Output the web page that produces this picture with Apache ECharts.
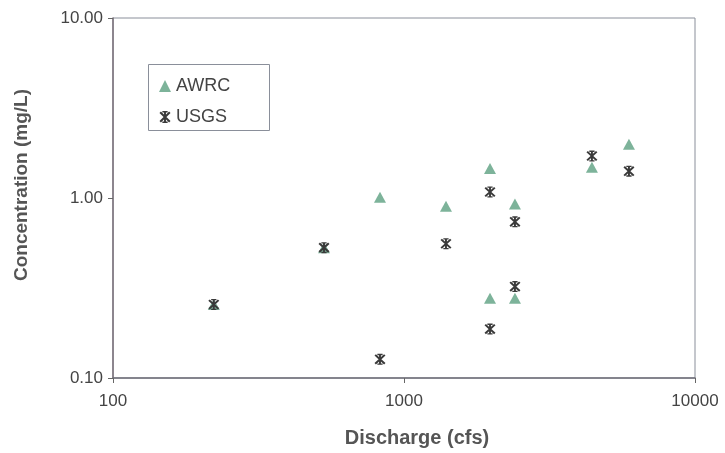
<!DOCTYPE html>
<html>
<head>
<meta charset="utf-8">
<script src="https://cdn.jsdelivr.net/npm/echarts@6/dist/echarts.min.js"></script>
<style>html,body{margin:0;padding:0;background:#fff;}#c{width:725px;height:453px;}</style>
</head>
<body>
<div id="c"></div>
<script>
// Data (discharge in cfs, concentration in mg/L)
var awrcDischarge = [222, 531, 827, 1394, 1975, 2406, 1975, 2406, 4424, 5930];
var awrcConc      = [0.256, 0.53, 1.01, 0.90, 1.46, 0.927, 0.277, 0.277, 1.48, 1.99];
var usgsDischarge = [222, 531, 827, 1394, 1975, 2406, 2406, 1975, 4424, 5930];
var usgsConc      = [0.256, 0.53, 0.127, 0.557, 1.08, 0.737, 0.322, 0.187, 1.71, 1.41];
var xTicks = [100, 1000, 10000];
var yTicks = [0.1, 1, 10];

function pairs(xs, ys) { return xs.map(function (x, i) { return [x, ys[i]]; }); }

var starPath = 'path://M4.2,0L5.8,0L5.8,10L4.2,10Z M0.4,1.6L1.6,0.4L9.6,8.4L8.4,9.6Z M8.4,0.4L9.6,1.6L1.6,9.6L0.4,8.4Z M2.8,0L7.2,0L7.2,1.2L2.8,1.2Z M2.8,8.8L7.2,8.8L7.2,10L2.8,10Z';
var font = 'Liberation Sans, Arial, sans-serif';

var chart = echarts.init(document.getElementById('c'));
chart.setOption({
  animation: false,
  backgroundColor: '#fff',
  grid: { left: 113, right: 30, top: 18, bottom: 73, show: true, borderColor: '#8a8f9a', borderWidth: 1 },
  xAxis: {
    type: 'log', logBase: 10, min: xTicks[0], max: xTicks[xTicks.length - 1],
    name: 'Discharge (cfs)', nameLocation: 'middle', nameGap: 50,
    nameTextStyle: { fontFamily: font, fontSize: 20, fontWeight: 'bold', color: '#555', padding: [0, 0, 0, 26] },
    axisLine: { lineStyle: { color: '#6f6f78', width: 1.5 } },
    axisTick: { show: true, length: 5, lineStyle: { color: '#666' } },
    minorTick: { show: false },
    splitLine: { show: false },
    axisLabel: { fontFamily: font, fontSize: 17, color: '#444', margin: 15,
      formatter: function (v) { return String(Math.round(v)); } }
  },
  yAxis: {
    type: 'log', logBase: 10, min: yTicks[0], max: yTicks[yTicks.length - 1],
    name: 'Concentration (mg/L)', nameLocation: 'middle', nameGap: 82,
    nameTextStyle: { fontFamily: font, fontSize: 19, fontWeight: 'bold', color: '#555', padding: [0, 0, 0, 26] },
    axisLine: { lineStyle: { color: '#7a707a', width: 1.5 } },
    axisTick: { show: true, length: 5, lineStyle: { color: '#666' } },
    splitLine: { show: false },
    axisLabel: { fontFamily: font, fontSize: 17, color: '#444', margin: 10,
      formatter: function (v) { return Number(v).toFixed(2); } }
  },
  legend: {
    orient: 'vertical', left: 154, top: 72, itemGap: 13,
    itemWidth: 12, itemHeight: 12,
    textStyle: { fontFamily: font, fontSize: 18, color: '#444' },
    data: [
      { name: 'AWRC', icon: 'triangle', itemStyle: { color: '#7db39a' } },
      { name: 'USGS', icon: starPath, itemStyle: { color: '#3a3a3a' } }
    ]
  },
  graphic: [{
    type: 'rect', shape: { x: 148.5, y: 64.5, width: 121, height: 66 },
    style: { fill: 'none', stroke: '#8a8f9a', lineWidth: 1 }, z: 1
  }],
  series: [
    { name: 'AWRC', type: 'scatter', symbol: 'triangle', symbolSize: [12, 11],
      itemStyle: { color: '#7db39a', opacity: 1 }, data: pairs(awrcDischarge, awrcConc), z: 2 },
    { name: 'USGS', type: 'scatter', symbol: starPath, symbolSize: 11,
      itemStyle: { color: '#3a3a3a', opacity: 1 }, data: pairs(usgsDischarge, usgsConc), z: 3 }
  ]
});
</script>
</body>
</html>
